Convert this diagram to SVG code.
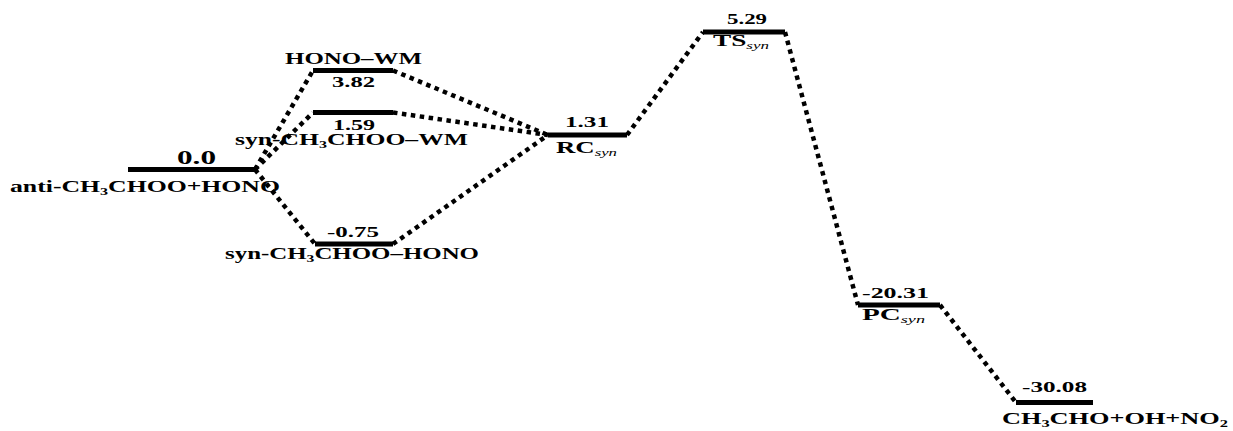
<svg xmlns="http://www.w3.org/2000/svg" width="1233" height="431" viewBox="0 0 1233 431">
<style>
.lvl{stroke:#000;stroke-width:5;fill:none}
.con{stroke:#000;stroke-width:4.5;stroke-dasharray:4.5 4.5;fill:none}
.lab{font-family:"Liberation Serif","DejaVu Serif",serif;font-weight:bold;font-size:16px;fill:#000}
.num{font-family:"Liberation Serif","DejaVu Serif",serif;font-weight:bold;font-size:15px;fill:#000;text-anchor:middle}
.sub{font-size:10px}
.it{font-size:10px;font-style:italic;font-weight:normal}
</style>
<rect width="1233" height="431" fill="#fff"/>
<g id="connectors">
<line class="con" x1="255" y1="169.5" x2="313" y2="70.5"/>
<line class="con" x1="255" y1="169.5" x2="313" y2="112.5"/>
<line class="con" x1="255" y1="169.5" x2="315" y2="244"/>
<line class="con" x1="393" y1="70.5" x2="548" y2="135"/>
<line class="con" x1="393" y1="112.5" x2="548" y2="135"/>
<line class="con" x1="393" y1="244" x2="548" y2="135"/>
<line class="con" x1="627" y1="135" x2="703" y2="32"/>
<line class="con" x1="785" y1="32" x2="858" y2="305"/>
<line class="con" x1="940" y1="305" x2="1016" y2="402.5"/>
</g>
<g id="anti">
<line class="lvl" x1="128" y1="169.5" x2="255" y2="169.5"/>
<text x="196.5" y="164" class="num" style="font-size:19px" textLength="39" lengthAdjust="spacingAndGlyphs">0.0</text>
<text x="10" y="192" class="lab" textLength="270" lengthAdjust="spacingAndGlyphs">anti-CH<tspan class="sub" dy="3">3</tspan><tspan dy="-3">CHOO+HONO</tspan></text>
</g>
<g id="hono-wm">
<line class="lvl" x1="313" y1="70.5" x2="393" y2="70.5"/>
<text x="285" y="64" class="lab" textLength="137" lengthAdjust="spacingAndGlyphs">HONO–WM</text>
<text x="353.5" y="87" class="num" textLength="43" lengthAdjust="spacingAndGlyphs">3.82</text>
</g>
<g id="syn-wm">
<line class="lvl" x1="313" y1="112.5" x2="393" y2="112.5"/>
<text x="354" y="129.5" class="num" style="font-size:14px" textLength="42" lengthAdjust="spacingAndGlyphs">1.59</text>
<text x="235" y="145" class="lab" textLength="233" lengthAdjust="spacingAndGlyphs">syn-CH<tspan class="sub" dy="3">3</tspan><tspan dy="-3">CHOO–WM</tspan></text>
</g>
<g id="syn-hono">
<line class="lvl" x1="315" y1="244" x2="393" y2="244"/>
<text x="353" y="237" class="num" textLength="52" lengthAdjust="spacingAndGlyphs">-0.75</text>
<text x="225" y="259" class="lab" textLength="254" lengthAdjust="spacingAndGlyphs">syn-CH<tspan class="sub" dy="3">3</tspan><tspan dy="-3">CHOO–HONO</tspan></text>
</g>
<g id="rc">
<line class="lvl" x1="548" y1="135" x2="627" y2="135"/>
<text x="587" y="127" class="num" textLength="44" lengthAdjust="spacingAndGlyphs">1.31</text>
<text x="556" y="153" class="lab" textLength="61" lengthAdjust="spacingAndGlyphs">RC<tspan class="it" dy="3">syn</tspan></text>
</g>
<g id="ts">
<line class="lvl" x1="703" y1="32" x2="785" y2="32"/>
<text x="747" y="24" class="num" textLength="40" lengthAdjust="spacingAndGlyphs">5.29</text>
<text x="713" y="46" class="lab" textLength="56" lengthAdjust="spacingAndGlyphs">TS<tspan class="it" dy="3">syn</tspan></text>
</g>
<g id="pc">
<line class="lvl" x1="858" y1="305" x2="940" y2="305"/>
<text x="895.5" y="298" class="num" textLength="67" lengthAdjust="spacingAndGlyphs">-20.31</text>
<text x="862" y="320" class="lab" textLength="63" lengthAdjust="spacingAndGlyphs">PC<tspan class="it" dy="3">syn</tspan></text>
</g>
<g id="products">
<line class="lvl" x1="1016" y1="402.5" x2="1093" y2="402.5"/>
<text x="1054.5" y="392" class="num" textLength="65" lengthAdjust="spacingAndGlyphs">-30.08</text>
<text x="1002" y="424" class="lab" textLength="226" lengthAdjust="spacingAndGlyphs">CH<tspan class="sub" dy="3">3</tspan><tspan dy="-3">CHO+OH+NO</tspan><tspan class="sub" dy="3">2</tspan></text>
</g>
</svg>
